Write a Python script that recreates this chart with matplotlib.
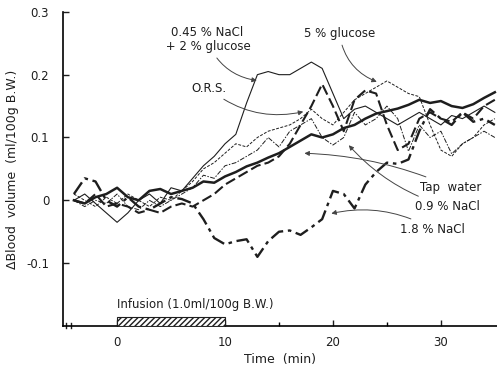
import matplotlib
matplotlib.use("Agg")
import matplotlib.pyplot as plt
import numpy as np
from matplotlib.patches import Rectangle

time_min = list(range(-4, 36))

nacl045_glucose2 = [0.0, 0.01, -0.005, -0.02, -0.035, -0.02, 0.0, 0.01, -0.005, 0.02,
                    0.015, 0.035, 0.055, 0.07, 0.09, 0.105, 0.155, 0.2, 0.205, 0.2,
                    0.2, 0.21, 0.22, 0.21, 0.17, 0.13, 0.145, 0.15, 0.14, 0.13,
                    0.12, 0.13, 0.14, 0.13, 0.12, 0.135, 0.13, 0.14, 0.15, 0.14]
ors = [0.0, -0.005, 0.01, -0.01, -0.005, -0.01, -0.02, -0.015, -0.02, -0.01,
       -0.005, -0.01, 0.0, 0.01, 0.025, 0.035, 0.045, 0.055, 0.06, 0.07,
       0.09, 0.12, 0.15, 0.185, 0.15, 0.11, 0.16, 0.175, 0.17, 0.12,
       0.08, 0.09, 0.13, 0.14, 0.13, 0.125, 0.14, 0.13, 0.15, 0.16]
glucose5 = [0.01, 0.0, -0.01, 0.005, -0.005, 0.01, 0.0, -0.01, 0.005, 0.0,
            0.015, 0.03, 0.05, 0.06, 0.075, 0.09, 0.085, 0.1, 0.11, 0.115,
            0.12, 0.13, 0.145, 0.13, 0.12, 0.14, 0.16, 0.17, 0.18, 0.19,
            0.18, 0.17, 0.165, 0.12, 0.08, 0.07, 0.09, 0.1, 0.12, 0.13]
tap_water = [0.0, -0.005, 0.005, 0.01, 0.02, 0.005, 0.0, 0.015, 0.018, 0.01,
             0.015, 0.02, 0.03, 0.028, 0.038, 0.045, 0.054, 0.06, 0.068, 0.075,
             0.085, 0.095, 0.105, 0.1, 0.105, 0.115, 0.12, 0.13, 0.138, 0.142,
             0.146, 0.152, 0.16, 0.155, 0.158, 0.15, 0.147, 0.153, 0.163, 0.172]
nacl09 = [0.0, -0.01, 0.0, -0.005, 0.01, -0.01, -0.015, 0.0, -0.01, 0.0,
          0.01, 0.02, 0.04, 0.035, 0.055, 0.06, 0.07, 0.08, 0.1, 0.085,
          0.11, 0.12, 0.13, 0.1, 0.088, 0.1, 0.14, 0.12, 0.13, 0.15,
          0.13, 0.078, 0.12, 0.1, 0.11, 0.074, 0.09, 0.1, 0.11, 0.1]
nacl18 = [0.01, 0.035, 0.03, 0.0, -0.01, 0.005, -0.01, -0.015, -0.005, 0.005,
          0.002, -0.005, -0.03, -0.06, -0.07, -0.065, -0.062, -0.09, -0.065, -0.05,
          -0.048, -0.055, -0.043, -0.03, 0.015, 0.01, -0.013, 0.025, 0.045, 0.06,
          0.058, 0.065, 0.11, 0.145, 0.13, 0.12, 0.14, 0.125, 0.13, 0.12]

x_ticks = [0, 10, 20, 30]
y_ticks = [-0.1, 0, 0.1, 0.2, 0.3]
y_ticklabels = ["-0.1", "0", "0.1", "0.2", "0.3"]

ink = "#1e1e1e"
plt.rcParams['font.family'] = ['DejaVu Sans']

fig = plt.figure(figsize=(4.97, 3.70), dpi=100)
ax = fig.add_axes([0.127, 0.119, 0.873, 0.849])
ax.set_xlim(-5, 35.2)
ax.set_ylim(-0.2, 0.3)

ax.plot(time_min, nacl045_glucose2, color=ink, lw=0.8)
ax.plot(time_min, glucose5, color=ink, lw=0.7, dashes=(3, 1.5))
ax.plot(time_min, nacl09, color=ink, lw=0.7, dashes=(5, 1.5, 1.5, 1.5))
ax.plot(time_min, tap_water, color=ink, lw=1.8)
ax.plot(time_min, ors, color=ink, lw=1.5, dashes=(5, 2))
ax.plot(time_min, nacl18, color=ink, lw=1.7, dashes=(6, 2, 1.5, 2))

for s in ["top", "right"]:
    ax.spines[s].set_visible(False)
ax.spines["left"].set_linewidth(1.2)
ax.spines["bottom"].set_linewidth(1.2)
ax.spines["left"].set_bounds(-0.2, 0.3)

ax.set_xticks(x_ticks)
ax.set_xticks([15, 25], minor=True)
ax.set_yticks(y_ticks)
ax.set_yticklabels(y_ticklabels)
ax.tick_params(direction="in", length=4, width=1, labelsize=8.5, colors=ink, pad=7)
ax.tick_params(which="minor", direction="in", length=3, width=1)
ax.tick_params(axis="y", pad=10)

# axis break marks
for xb in [-4.7, -4.3]:
    ax.plot([xb, xb], [-0.203, -0.195], color=ink, lw=1, clip_on=False)

# infusion bar
ax.add_patch(Rectangle((0, -0.2), 10, 0.0145, facecolor="white", edgecolor=ink,
                       hatch="//////", lw=0.8, zorder=3))
ax.text(0, -0.166, "Infusion (1.0ml/100g B.W.)", fontsize=8.5, color=ink,
        ha="left", va="center")

ax.set_xlabel("Time  (min)", fontsize=9, color=ink, labelpad=3)
ax.set_ylabel("\u0394Blood  volume  (ml/100g B.W.)", fontsize=9, color=ink, labelpad=5)

arrow = dict(arrowstyle="-|>", color="#444444", lw=0.7, mutation_scale=7)
fs = 8.5
ax.annotate("0.45 % NaCl\n + 2 % glucose", xy=(13.2, 0.19), xytext=(8.3, 0.256),
            fontsize=fs, ha="center", va="center", color=ink, linespacing=1.1,
            arrowprops=dict(arrow, connectionstyle="arc3,rad=0.3"))
ax.annotate("O.R.S.", xy=(17.5, 0.142), xytext=(8.5, 0.178),
            fontsize=fs, ha="center", va="center", color=ink,
            arrowprops=dict(arrow, connectionstyle="arc3,rad=0.25"))
ax.annotate("5 % glucose", xy=(24.3, 0.187), xytext=(20.6, 0.266),
            fontsize=fs, ha="center", va="center", color=ink,
            arrowprops=dict(arrow, connectionstyle="arc3,rad=0.3"))
ax.annotate("Tap  water", xy=(17.1, 0.075), xytext=(28.1, 0.021),
            fontsize=fs, ha="left", va="center", color=ink,
            arrowprops=dict(arrow, connectionstyle="arc3,rad=0.1"))
ax.annotate("0.9 % NaCl", xy=(21.3, 0.091), xytext=(27.6, -0.01),
            fontsize=fs, ha="left", va="center", color=ink,
            arrowprops=dict(arrow, connectionstyle="arc3,rad=-0.15"))
ax.annotate("1.8 % NaCl", xy=(19.6, -0.022), xytext=(26.2, -0.046),
            fontsize=fs, ha="left", va="center", color=ink,
            arrowprops=dict(arrow, connectionstyle="arc3,rad=0.2"))

fig.savefig("out.png", dpi=100)
